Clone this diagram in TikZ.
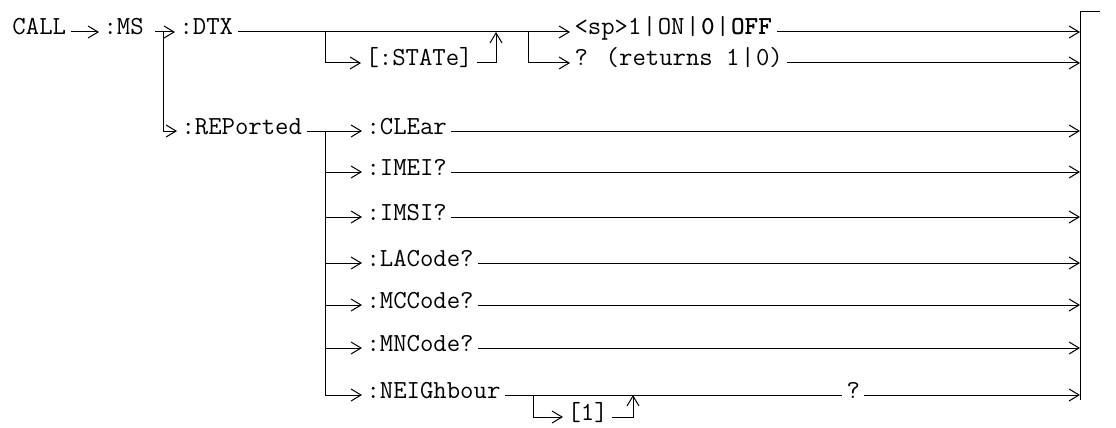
\documentclass[tikz,border=0pt]{standalone}
\usepackage{tikz}
\usetikzlibrary{arrows.meta,positioning}
\newcommand{\orbar}{\kern1.5pt|\kern1.5pt}
\tikzset{
  kw/.style={font=\ttfamily\fontsize{26}{30}\selectfont, anchor=west, inner xsep=4pt, inner ysep=0pt, text height=6pt, text depth=0pt},
  >={Straight Barb[length=10pt,width=12pt]}
}

\begin{document}
\begin{tikzpicture}[x=1pt,y=-1pt,line width=1pt]
\useasboundingbox (0,0) rectangle (1116,428);
\node[kw] (call) at (8,32) {CALL};
\node[kw] (ms) at (99,32) {:MS};
\node[kw] (dtx) at (175,32) {:DTX};
\node[kw] (state) at (361,63) {[:STATe]};
\node[kw] (set) at (570,32) {<sp>1\orbar ON\orbar\textbf{0}\orbar\textbf{OFF}};
\node[kw] (ret) at (570,63) {? (returns 1\orbar 0)};
\node[kw] (rep) at (177,131) {:REPorted};
\node[kw] (clear) at (362,131) {:CLEar};
\node[kw] (imei) at (362,172) {:IMEI?};
\node[kw] (imsi) at (362,217) {:IMSI?~};
\node[kw] (lacode) at (362,263) {:LACode?};
\node[kw] (mccode) at (362,305) {:MCCode?};
\node[kw] (mncode) at (362,348) {:MNCode?};
\node[kw] (neigh) at (362,395) {:NEIGhbour~};
\node[kw] (one) at (563,417) {[1]};
\node[kw] (query) at (842,395) {?};
\coordinate (bartop) at (1080,12);
\coordinate (barbot) at (1080,400);
\coordinate (msfork) at (163,32);
\coordinate (dfork) at (325,32);
\coordinate (sjoin) at (496,32);
\coordinate (sfork) at (528,32);
\coordinate (rfork) at (325,131);
\coordinate (nfork) at (533,395);
\coordinate (njoin) at (633,395);

\draw[->] (call) -- (ms);
\draw[->] ([xshift=7pt]ms.east) -- (dtx);
\draw[->] (msfork) |- (rep);
\draw[->] (dtx) -- (set);
\draw[->] (dfork) |- (state);
\draw[->] (state) -| (sjoin);
\draw[->] (sfork) |- (ret);
\draw[->] (set) -- (set -| bartop);
\draw[->] (ret) -- (ret -| bartop);

\draw[->] (rep) -- (clear);
\draw[->] (rfork) |- (imei);
\draw[->] (rfork) |- (imsi);
\draw[->] (rfork) |- (lacode);
\draw[->] (rfork) |- (mccode);
\draw[->] (rfork) |- (mncode);
\draw[->] (rfork) |- (neigh);
\draw[->] (clear) -- (clear -| bartop);
\draw[->] (imei) -- (imei -| bartop);
\draw[->] (imsi) -- (imsi -| bartop);
\draw[->] (lacode) -- (lacode -| bartop);
\draw[->] (mccode) -- (mccode -| bartop);
\draw[->] (mncode) -- (mncode -| bartop);

\draw (neigh) -- (query);
\draw[->] (nfork) |- (one);
\draw[->] (one) -| (njoin);
\draw[->] (query) -- (query -| bartop);

\draw (barbot) -- (bartop) -- ++(20,0);
\end{tikzpicture}
\end{document}
